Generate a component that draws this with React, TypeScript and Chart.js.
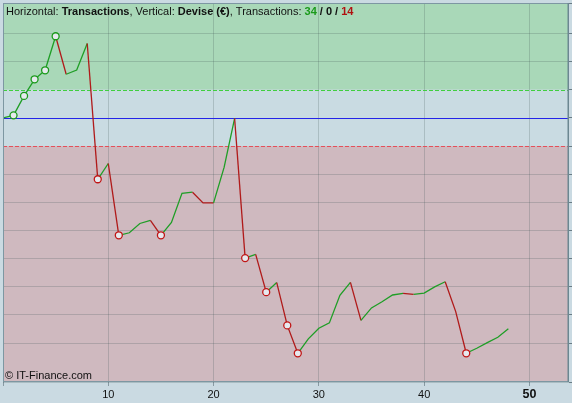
import React, { useEffect, useRef } from 'react';
import { Chart, registerables } from 'chart.js';

Chart.register(...registerables);

// ---- data ----
const transactions = [
  0, 1, 2, 3, 4, 5, 6, 7, 8, 9, 10, 11, 12, 13, 14, 15, 16, 17, 18, 19, 20, 21, 22, 23, 24,
  25, 26, 27, 28, 29, 30, 31, 32, 33, 34, 35, 36, 37, 38, 39, 40, 41, 42, 43, 44, 45, 46, 47, 48,
];
const equity = [
  10000, 10009, 10078, 10137, 10169, 10290, 10155, 10170, 10264, 9782, 9838, 9583, 9592, 9625,
  9636, 9583, 9629, 9732, 9736, 9698, 9698, 9824, 9998, 9502, 9515, 9381, 9415, 9263, 9164,
  9215, 9253, 9272, 9370, 9416, 9281, 9325, 9347, 9371, 9377, 9373, 9378, 9400, 9418, 9312,
  9164, 9182, 9202, 9221, 9251,
];
const greenMarkers = [1, 2, 3, 4, 5];
const redMarkers = [9, 11, 15, 23, 25, 27, 28, 44];
const xTickLabels = [10, 20, 30, 40, 50];
const startCapital = 10000;
const upperBand = 10100;
const lowerBand = 9900;
const yMin = 9062;
const yMax = 10408;
const xMin = 0;
const xMax = 53.76;
const winCount = 34;
const evenCount = 0;
const lossCount = 14;

const UP = '#1f9e26';
const DOWN = '#b01a1a';
const GRID = 'rgba(60,80,80,0.22)';
const FONT = '"Liberation Sans", Arial, sans-serif';

const bandsPlugin = {
  id: 'bands',
  beforeDraw(chart: any) {
    const { ctx, chartArea: a, scales } = chart;
    const y = scales.y;
    ctx.save();
    ctx.fillStyle = '#cadae2';
    ctx.fillRect(0, 0, chart.width, chart.height);
    const yu = y.getPixelForValue(upperBand);
    const yl = y.getPixelForValue(lowerBand);
    ctx.fillStyle = '#a9d8b8';
    ctx.fillRect(a.left, a.top, a.width, yu - a.top);
    ctx.fillStyle = '#c9dbe2';
    ctx.fillRect(a.left, yu, a.width, yl - yu);
    ctx.fillStyle = '#cfb9bf';
    ctx.fillRect(a.left, yl, a.width, a.bottom - yl);
    ctx.restore();
  },
  beforeDatasetsDraw(chart: any) {
    const { ctx, chartArea: a, scales } = chart;
    const y = scales.y;
    ctx.save();
    ctx.lineWidth = 1;
    const line = (v: number, color: string, dash: number[]) => {
      const py = Math.round(y.getPixelForValue(v)) + 0.5;
      ctx.strokeStyle = color;
      ctx.setLineDash(dash);
      ctx.beginPath();
      ctx.moveTo(a.left, py);
      ctx.lineTo(a.right, py);
      ctx.stroke();
    };
    line(upperBand, '#3fcf3f', [4, 2]);
    line(lowerBand, '#e4505a', [4, 2]);
    line(startCapital, '#2424e8', []);
    ctx.restore();
  },
  afterDraw(chart: any) {
    const { ctx, chartArea: a } = chart;
    ctx.save();
    // frame
    ctx.strokeStyle = '#7d97a2';
    ctx.lineWidth = 1;
    ctx.strokeRect(a.left + 0.5, a.top + 0.5, a.width - 1, a.height - 1);
    ctx.strokeStyle = '#6c8791';
    ctx.lineWidth = 1.5;
    ctx.beginPath();
    ctx.moveTo(a.right - 0.75, a.top);
    ctx.lineTo(a.right - 0.75, a.bottom);
    ctx.stroke();

    // header text
    ctx.textBaseline = 'alphabetic';
    let x = a.left + 3;
    const baseY = a.top + 12;
    const parts: [string, string, string][] = [
      ['Horizontal: ', 'normal', '#111111'],
      ['Transactions', 'bold', '#111111'],
      [', Vertical: ', 'normal', '#111111'],
      ['Devise (€)', 'bold', '#111111'],
      [', Transactions: ', 'normal', '#111111'],
      [String(winCount), 'bold', '#1a9a1a'],
      [' / ', 'bold', '#111111'],
      [String(evenCount), 'bold', '#111111'],
      [' / ', 'bold', '#111111'],
      [String(lossCount), 'bold', '#b01010'],
    ];
    for (const [t, w, c] of parts) {
      ctx.font = `${w} 11px ${FONT}`;
      ctx.fillStyle = c;
      ctx.fillText(t, x, baseY);
      x += ctx.measureText(t).width;
    }
    // copyright
    ctx.font = `normal 11px ${FONT}`;
    ctx.fillStyle = '#111111';
    ctx.fillText('© IT-Finance.com', a.left + 2, a.bottom - 3);
    ctx.restore();
  },
};

export default function App() {
  const ref = useRef<HTMLCanvasElement | null>(null);

  useEffect(() => {
    document.body.style.margin = '0';
    const canvas = ref.current;
    if (!canvas) return;
    const points = transactions.map((t, i) => ({ x: t, y: equity[i] }));
    const special = [startCapital, upperBand, lowerBand];
    const chart = new Chart(canvas, {
      type: 'line',
      data: {
        datasets: [
          {
            data: points,
            borderWidth: 1.3,
            borderColor: UP,
            fill: false,
            tension: 0,
            segment: {
              borderColor: (c: any) => (c.p1.parsed.y > c.p0.parsed.y ? UP : DOWN),
            },
            pointRadius: (c: any) =>
              greenMarkers.includes(c.dataIndex) || redMarkers.includes(c.dataIndex) ? 3.5 : 0,
            pointHoverRadius: 0,
            pointBorderWidth: 1.3,
            pointBorderColor: (c: any) => (greenMarkers.includes(c.dataIndex) ? '#1a9a1a' : '#c01515'),
            pointBackgroundColor: '#e6e9ee',
          },
        ],
      },
      options: {
        animation: false,
        responsive: false,
        devicePixelRatio: 1,
        layout: { padding: { left: 3, top: 3, right: 0, bottom: -1.5 } },
        plugins: {
          legend: { display: false },
          tooltip: { enabled: false },
          title: { display: false },
        },
        scales: {
          x: {
            type: 'linear',
            position: 'bottom',
            min: xMin,
            max: xMax,
            afterBuildTicks: (scale: any) => {
              scale.ticks = [0, ...xTickLabels].map((v) => ({ value: v }));
            },
            ticks: {
              autoSkip: false,
              maxRotation: 0,
              padding: 1,
              color: '#111111',
              callback: (v: any) => (xTickLabels.includes(Number(v)) ? String(v) : ''),
              font: (c: any) =>
                c.tick && c.tick.value === 50
                  ? { family: FONT, size: 12.5, weight: 'bold', lineHeight: 1.2 }
                  : { family: FONT, size: 11, weight: 'normal', lineHeight: 1.5 },
            },
            grid: {
              color: GRID,
              tickColor: 'rgba(90,110,120,0.6)',
              tickLength: 4,
              drawTicks: true,
            },
            border: { display: false },
          },
          y: {
            type: 'linear',
            position: 'right',
            min: yMin,
            max: yMax,
            ticks: { display: false, stepSize: 100 },
            grid: {
              color: (c: any) => (c.tick && special.includes(c.tick.value) ? 'rgba(0,0,0,0)' : GRID),
              tickColor: 'rgba(80,100,110,0.8)',
              tickLength: 3,
              drawTicks: true,
            },
            border: { display: false },
          },
        },
      },
      plugins: [bandsPlugin],
    } as any);
    return () => chart.destroy();
  }, []);

  return <canvas ref={ref} width={572} height={403} style={{ display: 'block', width: 572, height: 403 }} />;
}
